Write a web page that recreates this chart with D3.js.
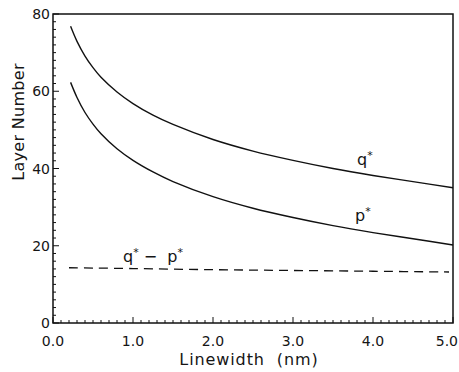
<!DOCTYPE html>
<html><head><meta charset="utf-8">
<script src="https://cdn.jsdelivr.net/npm/d3@7"></script>
<style>
body{margin:0;background:#fff}
svg{display:block}
text{font-family:"DejaVu Sans",sans-serif;fill:#151515}
</style>
</head><body><svg id="c" width="459" height="372"></svg>
<script>
const linewidth = [0.22, 0.3, 0.4, 0.5, 0.6, 0.8, 1.0, 1.25, 1.5, 2.0, 2.5, 3.0, 3.5, 4.0, 4.5, 5.0];
const qStar = [76.8, 72.9, 69.1, 66.1, 63.6, 59.8, 56.8, 53.8, 51.4, 47.5, 44.5, 42.1, 40.0, 38.2, 36.6, 35.0];
const pStar = [62.3, 58.4, 54.5, 51.5, 49.0, 45.1, 42.1, 39.1, 36.6, 32.7, 29.7, 27.3, 25.2, 23.4, 21.8, 20.2];
const diffX = [0.2, 1.0, 2.0, 3.0, 4.0, 4.95];
const diffY = [14.3, 14.1, 13.8, 13.6, 13.4, 13.2];
const xTickValues = [0, 1, 2, 3, 4, 5];
const xTickLabels = ["0.0", "1.0", "2.0", "3.0", "4.0", "5.0"];
const yTickValues = [0, 20, 40, 60, 80];
const yTickLabels = ["0", "20", "40", "60", "80"];

const svg = d3.select("#c");
const m = {l: 53, t: 14, r: 6, b: 49};
const W = 459 - m.l - m.r, H = 372 - m.t - m.b;
const x = d3.scaleLinear().domain([0, 5]).range([m.l, m.l + W]);
const y = d3.scaleLinear().domain([0, 80]).range([m.t + H, m.t]);

// minor ticks
const xMinor = d3.range(0, 51).map(i => i / 10);
const yMinor = d3.range(0, 41).map(i => i * 2);
const g = svg.append("g").attr("stroke", "#111").attr("stroke-width", 1);
g.selectAll(".xm").data(xMinor).join("line")
  .attr("x1", d => x(d)).attr("x2", d => x(d))
  .attr("y1", y(0)).attr("y2", d => y(0) - (Math.abs(d - Math.round(d)) < 1e-9 ? 6 : 3));
g.selectAll(".ym").data(yMinor).join("line")
  .attr("y1", d => y(d)).attr("y2", d => y(d))
  .attr("x1", x(0)).attr("x2", d => x(0) + (d % 20 === 0 ? 6 : 3));

// frame
svg.append("rect").attr("x", x(0)).attr("y", y(80)).attr("width", W).attr("height", H)
  .attr("fill", "none").attr("stroke", "#111").attr("stroke-width", 1.5);

// tick labels
svg.selectAll(".xl").data(xTickValues).join("text")
  .attr("x", d => x(d)).attr("y", y(0) + 23).attr("text-anchor", "middle")
  .attr("font-size", 14).text((d, i) => xTickLabels[i])
  .each(function () {
    const w = this.getComputedTextLength();
    const cx = +this.getAttribute("x");
    if (cx + w / 2 > 458) this.setAttribute("x", 458 - w / 2);
  });
svg.selectAll(".yl").data(yTickValues).join("text")
  .attr("x", x(0) - 3).attr("y", d => y(d) + 5).attr("text-anchor", "end")
  .attr("font-size", 14).text((d, i) => yTickLabels[i]);

// axis titles
svg.append("text").attr("x", 249).attr("y", 365).attr("text-anchor", "middle")
  .attr("font-size", 16).attr("letter-spacing", 0.9).attr("xml:space", "preserve")
  .text("Linewidth  (nm)");
svg.append("text").attr("transform", "translate(24,122) rotate(-90)")
  .attr("text-anchor", "middle").attr("font-size", 16).attr("letter-spacing", 0.3)
  .text("Layer Number");

// curves
const line = d3.line().x(d => x(d[0])).y(d => y(d[1])).curve(d3.curveCatmullRom.alpha(0.5));
svg.append("path").datum(linewidth.map((v, i) => [v, qStar[i]]))
  .attr("d", line).attr("fill", "none").attr("stroke", "#111").attr("stroke-width", 1.4);
svg.append("path").datum(linewidth.map((v, i) => [v, pStar[i]]))
  .attr("d", line).attr("fill", "none").attr("stroke", "#111").attr("stroke-width", 1.4);
svg.append("path").datum(diffX.map((v, i) => [v, diffY[i]]))
  .attr("d", line).attr("fill", "none").attr("stroke", "#111").attr("stroke-width", 1.3)
  .attr("stroke-dasharray", "9,6");

// curve labels
function lab(tx, ty, base, extra) {
  const t = svg.append("text").attr("x", tx).attr("y", ty).attr("font-size", 16);
  t.append("tspan").text(base);
  t.append("tspan").attr("font-size", 11).attr("dy", -6).text("*");
  if (extra) {
    t.append("tspan").attr("dy", 6).attr("xml:space", "preserve").text(" \u2212  ");
    t.append("tspan").text(extra);
    t.append("tspan").attr("font-size", 11).attr("dy", -6).text("*");
  }
}
lab(357, 165, "q");
lab(355, 221, "p");
lab(123, 262, "q", "p");
</script>
</body></html>
